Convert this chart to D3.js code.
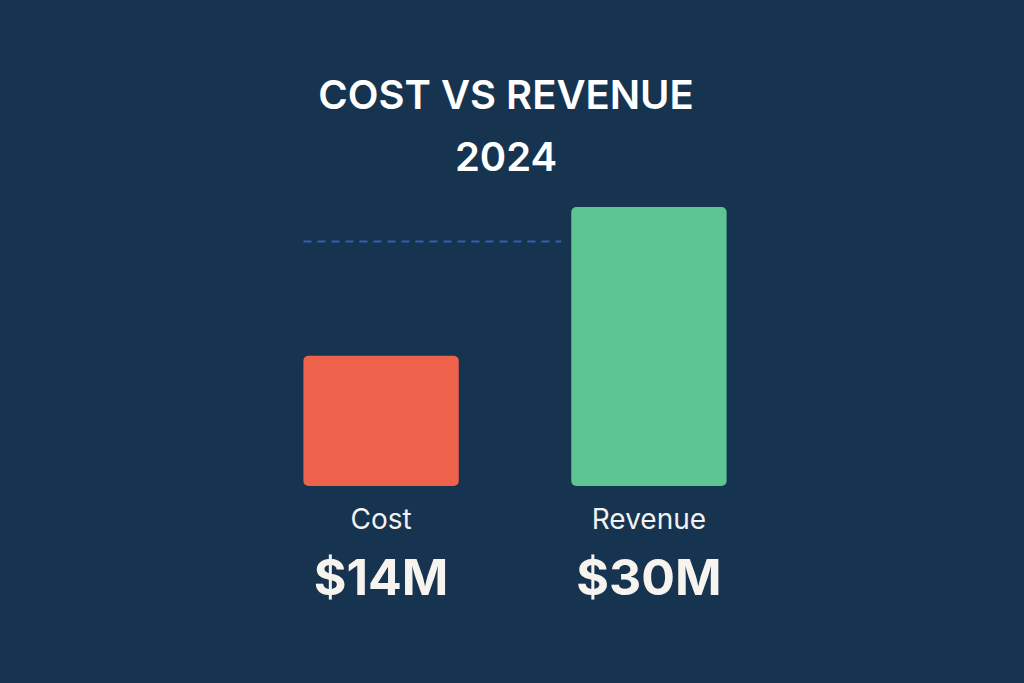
<!DOCTYPE html>
<html><head><meta charset="utf-8">
<script src="https://cdn.jsdelivr.net/npm/d3@7"></script>
<style>body{margin:0;background:#16334f}</style></head>
<body><svg id="chart" width="1024" height="683"></svg>
<script>
const categories = ["Cost", "Revenue"];
const values = [14, 30];
const valueLabels = ["$14M", "$30M"];
const colors = ["#ee624b", "#5cc592"];
const refValue = 26.3; // dashed guide line

const svg = d3.select("#chart");
svg.append("rect").attr("width", 1024).attr("height", 683).attr("fill", "#16334f");

const x = d3.scaleBand().domain(categories).range([290, 740]).paddingInner(0.42).paddingOuter(0.05);
const y = d3.scaleLinear().domain([0, 30]).range([486, 207]);

svg.append("text").attr("x", 506).attr("y", 109).attr("text-anchor", "middle")
  .attr("fill", "#fff").attr("font-family", "Inter, sans-serif").attr("font-weight", 600)
  .attr("font-size", 40).text("COST VS REVENUE");
svg.append("text").attr("x", 506).attr("y", 171).attr("text-anchor", "middle")
  .attr("fill", "#fff").attr("font-family", "Inter, sans-serif").attr("font-weight", 600)
  .attr("font-size", 40).text("2024");

svg.append("line").attr("x1", x("Cost")).attr("x2", x("Revenue") - 10)
  .attr("y1", y(refValue)).attr("y2", y(refValue))
  .attr("stroke", "#2f63b0").attr("stroke-width", 2).attr("stroke-dasharray", "8,6");

const g = svg.selectAll(".bar").data(categories).enter().append("g");
g.append("rect").attr("x", d => x(d)).attr("width", x.bandwidth())
  .attr("y", (d, i) => y(values[i])).attr("height", (d, i) => y(0) - y(values[i]))
  .attr("rx", 5).attr("fill", (d, i) => colors[i]);
g.append("text").attr("x", d => x(d) + x.bandwidth() / 2).attr("y", 529)
  .attr("text-anchor", "middle").attr("fill", "#f2f2f2")
  .attr("font-family", "Inter, sans-serif").attr("font-size", 28).text(d => d);
g.append("text").attr("x", d => x(d) + x.bandwidth() / 2).attr("y", 595)
  .attr("text-anchor", "middle").attr("fill", "#f7f3ee")
  .attr("font-family", "Inter, sans-serif").attr("font-weight", 700).attr("font-size", 50)
  .text((d, i) => valueLabels[i]);
</script></body></html>
